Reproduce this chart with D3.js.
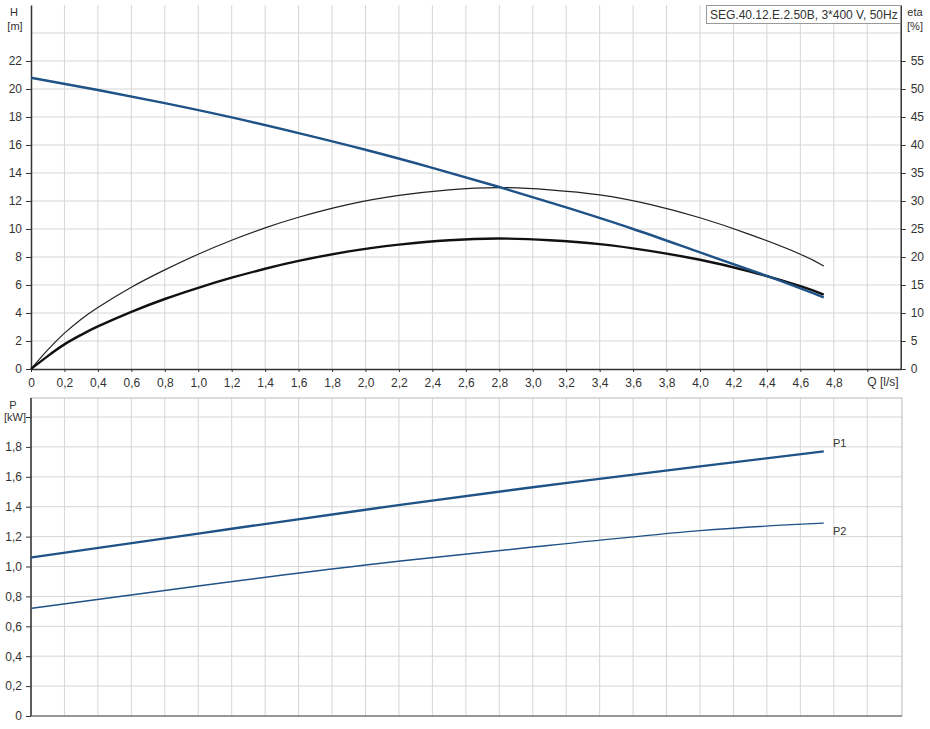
<!DOCTYPE html>
<html><head><meta charset="utf-8">
<script src="https://cdn.jsdelivr.net/npm/d3@7/dist/d3.min.js"></script>
<style>
body{margin:0;background:#fff;}
text{font-family:"Liberation Sans",Arial,sans-serif;fill:#333;}
</style></head>
<body><svg id="c" width="930" height="729"></svg>
<script>
// ---- data ----
const title = "SEG.40.12.E.2.50B, 3*400 V, 50Hz";
const qTicks = [0,0.2,0.4,0.6,0.8,1.0,1.2,1.4,1.6,1.8,2.0,2.2,2.4,2.6,2.8,3.0,3.2,3.4,3.6,3.8,4.0,4.2,4.4,4.6,4.8];
const hTicks = [0,2,4,6,8,10,12,14,16,18,20,22];
const etaTicks = [0,5,10,15,20,25,30,35,40,45,50,55];
const pTicks = [0,0.2,0.4,0.6,0.8,1.0,1.2,1.4,1.6,1.8];

const qH = [0,0.4,0.8,1.2,1.6,2.0,2.4,2.8,3.2,3.6,4.0,4.4,4.74];
const hVals = [20.8,19.93,18.99,17.97,16.85,15.66,14.37,13.0,11.54,10.0,8.33,6.65,5.12];

const qEta = [0,0.1,0.2,0.3,0.4,0.6,0.8,1.0,1.2,1.4,1.6,1.9,2.2,2.5,2.8,3.1,3.4,3.7,4.0,4.3,4.6,4.74];
const etaThin = [0,3.4,6.4,8.9,11.0,14.6,17.7,20.5,23.0,25.2,27.1,29.4,31.0,32.0,32.4,32.0,31.1,29.4,27.0,24.0,20.5,18.4];
const etaThick = [0,2.3,4.4,6.1,7.6,10.2,12.5,14.5,16.3,17.9,19.3,21.0,22.2,23.0,23.3,23.0,22.3,21.1,19.5,17.4,14.8,13.3];

const qP = [0,1,2,3,4,4.74];
const p1Vals = [1.06,1.22,1.38,1.53,1.67,1.77];
const p2Vals = [0.72,0.87,1.01,1.13,1.24,1.29];

// ---- drawing ----
const svg = d3.select("#c");
const fmt = v => v===0 ? "0" : d3.format(".1f")(v).replace(".", ",");
const x = d3.scaleLinear().domain([0,5.2]).range([31,900.7]);
const yH = d3.scaleLinear().domain([0,26]).range([369,5]);
const yEta = d3.scaleLinear().domain([0,65]).range([369,5]);
const yP = d3.scaleLinear().domain([0,2]).range([716,417]);
const grid = "#d6d6d6";
const blue = "#1f5286";

// top grid
const gridQ = d3.range(1,26).map(i=>i*0.2);
svg.append("g").selectAll("line").data(gridQ).join("line")
  .attr("x1",d=>x(d)).attr("x2",d=>x(d)).attr("y1",yH(26)).attr("y2",yH(0))
  .attr("stroke",grid).attr("stroke-width",1);
svg.append("g").selectAll("line").data(d3.range(1,13).map(i=>i*2)).join("line")
  .attr("x1",x(0)).attr("x2",x(5.2)).attr("y1",d=>yH(d)).attr("y2",d=>yH(d))
  .attr("stroke",grid);

// bottom grid
svg.append("g").selectAll("line").data(gridQ).join("line")
  .attr("x1",d=>x(d)).attr("x2",d=>x(d)).attr("y1",398).attr("y2",yP(0))
  .attr("stroke",grid);
svg.append("g").selectAll("line").data(d3.range(1,11).map(i=>i*0.2)).join("line")
  .attr("x1",x(0)).attr("x2",902).attr("y1",d=>yP(d)).attr("y2",d=>yP(d))
  .attr("stroke",grid);
svg.append("rect").attr("x",x(0)).attr("y",398).attr("width",902-x(0)).attr("height",yP(0)-398)
  .attr("fill","none").attr("stroke","#b8b8b8");

// axes
function styleAxis(g){ g.select(".domain").attr("stroke","#333").attr("stroke-width",1.5);
  g.selectAll(".tick line").attr("stroke","#333");
  g.selectAll("text").style("font-family","'Liberation Sans',Arial,sans-serif").style("font-size","12px").attr("fill","#333"); }

svg.append("g").attr("transform","translate(31,0)")
  .call(d3.axisLeft(yH).tickValues(hTicks).tickFormat(d=>d).tickSize(5).tickPadding(4).tickSizeOuter(0))
  .call(styleAxis);
svg.append("g").attr("transform","translate(900.7,0)")
  .call(d3.axisRight(yEta).tickValues(etaTicks).tickFormat(d=>d).tickSize(5).tickPadding(5).tickSizeOuter(0))
  .call(styleAxis);
svg.append("g").attr("transform","translate(0,369)")
  .call(d3.axisBottom(x).tickValues(qTicks.concat([5.0])).tickFormat(d=>d>4.9?"":fmt(d)).tickSize(3).tickPadding(6).tickSizeOuter(0))
  .call(styleAxis);

svg.append("g").attr("transform","translate(31,0)")
  .call(d3.axisLeft(yP).tickValues(pTicks.concat([2.0])).tickFormat(d=>d>1.9?"":fmt(d)).tickSize(5).tickPadding(4).tickSizeOuter(0))
  .call(styleAxis)
  .call(g=>g.select(".domain").attr("d","M0,398V716"));
svg.append("line").attr("x1",x(0)).attr("x2",902).attr("y1",716).attr("y2",716).attr("stroke","#555").attr("stroke-width",1.2);

// axis titles
const t = (txt,xx,yy,anchor,size)=>svg.append("text").attr("x",xx).attr("y",yy).attr("text-anchor",anchor||"middle").style("font-size",(size||11)+"px").text(txt);
t("H",14,16);
t("[m]",15,30);
t("eta",915,16);
t("[%]",915,30);
t("Q [l/s]",883,386,"middle",12);
t("P",13,409);
t("[kW]",15,421);

// title box
svg.append("rect").attr("x",706.5).attr("y",5.5).attr("width",194).attr("height",18)
  .attr("fill","#fff").attr("stroke","#999");
t(title,710,19,"start",12);

// curves
const ln = (xs, ys, ys2) => d3.line().x((d,i)=>x(xs[i])).y(d=>ys2(d)).curve(d3.curveNatural)(ys);
svg.append("path").attr("d",ln(qEta,etaThin,yEta)).attr("fill","none").attr("stroke","#222").attr("stroke-width",1.2);
svg.append("path").attr("d",ln(qEta,etaThick,yEta)).attr("fill","none").attr("stroke","#111").attr("stroke-width",2.4);
svg.append("path").attr("d",ln(qH,hVals,yH)).attr("fill","none").attr("stroke",blue).attr("stroke-width",2.4);
svg.append("path").attr("d",ln(qP,p1Vals,yP)).attr("fill","none").attr("stroke",blue).attr("stroke-width",2.4);
svg.append("path").attr("d",ln(qP,p2Vals,yP)).attr("fill","none").attr("stroke",blue).attr("stroke-width",1.4);

t("P1",833,447,"start",11);
t("P2",833,535,"start",11);
</script></body></html>
